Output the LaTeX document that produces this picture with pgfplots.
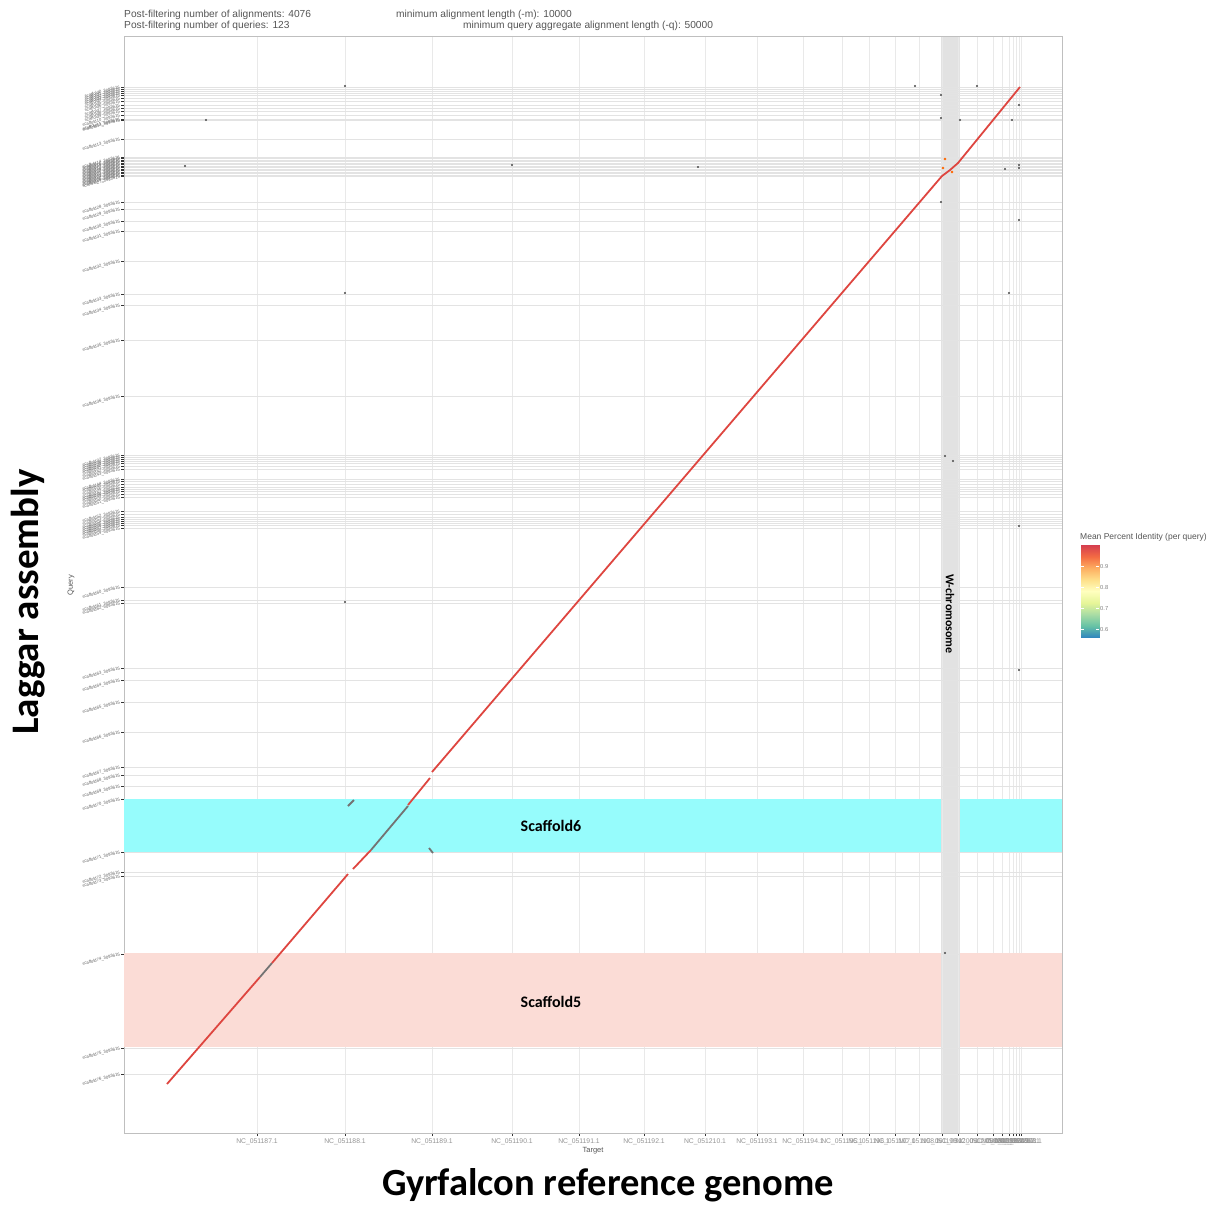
\documentclass[border=0pt]{standalone}
\usepackage{pgfplots}
\pgfplotsset{compat=1.18}
\usepackage{fontspec}
\setmainfont{Liberation Sans}
\newfontfamily\calib{Carlito}
\definecolor{linered}{RGB}{222,70,64}
\definecolor{linegray}{RGB}{115,115,115}
\definecolor{bandcyan}{RGB}{150,252,252}
\definecolor{bandpink}{RGB}{251,220,214}
\definecolor{bandgray}{RGB}{226,226,226}
\definecolor{txtgray}{RGB}{85,85,85}
\begin{document}
\begin{tikzpicture}[x=1pt,y=1pt]
\path (0,0) rectangle (1224,-1205);
\begin{axis}[
  at={(124pt,-36pt)}, anchor=north west,
  width=938pt, height=1097pt, scale only axis,
  xmin=124, xmax=1062, ymin=36, ymax=1133, y dir=reverse,
  set layers,
  axis line style={gray!50, line width=0.6pt},
  xmajorgrids, ymajorgrids,
  grid style={gray!17, line width=0.8pt},
  y grid style={gray!22, line width=0.7pt},
  xtick pos=left, ytick pos=left,
  tick align=outside, major tick length=3pt,
  tick style={gray!40!black, line width=0.6pt},
  xtick={257,345,432,512,579,644,705,757,803,842,869,895,919,942,958,977,993,1002,1009,1013,1016,1019,1021},
  xticklabels={NC\_051187.1,NC\_051188.1,NC\_051189.1,NC\_051190.1,NC\_051191.1,NC\_051192.1,NC\_051210.1,NC\_051193.1,NC\_051194.1,NC\_051195.1,NC\_051196.1,NC\_051197.1,NC\_051198.1,NC\_051199.1,NC\_051200.1,NC\_051201.1,NC\_051202.1,NC\_051203.1,NC\_051204.1,NC\_051205.1,NC\_051206.1,NC\_051207.1,NC\_051208.1},
  xticklabel style={font=\fontsize{6.8}{7}\selectfont, text=gray!85, inner sep=1pt, yshift=-1.5pt},
  ytick={87,89,91,93,95,98,101,105,108,111,115,119,120,139,157,158.5,160,161.5,163,164.5,166,167.5,169,170.5,172,173.5,175,176.5,202,209,221,231,261,294,305,340,396,455,457,459,461,463,466,469,479,481,484,487,489,491,494,497,511,514,517,519,521,523,525,528,587,600,603,668,680,702,732,767,775,786,799,852,872,876,954,1048,1074},
  yticklabel={scaffold\ticknum\_3093615},
  yticklabel style={rotate=15, anchor=east, font=\fontsize{4.3}{4.5}\selectfont, text=gray!75!black, inner sep=1pt},
]
% highlighted bands
\addplot[draw=none, fill=bandgray, on layer=axis background] coordinates {(941,36) (960,36) (960,1133) (941,1133)};
\addplot[draw=none, fill=bandpink] coordinates {(124,953) (941,953) (941,1047) (124,1047)};
\addplot[draw=none, fill=bandpink] coordinates {(960,953) (1062,953) (1062,1047) (960,1047)};
\addplot[draw=none, fill=bandcyan] coordinates {(124,799) (941,799) (941,852) (124,852)};
\addplot[draw=none, fill=bandcyan] coordinates {(960,799) (1062,799) (1062,852) (960,852)};
% alignments
\addplot[linered, line width=1.8pt] coordinates {(167,1084) (260,977)};
\addplot[linegray, line width=1.8pt] coordinates {(260,977) (272,963)};
\addplot[linered, line width=1.8pt] coordinates {(272,963) (348,874)};
\addplot[linered, line width=1.8pt] coordinates {(353,869) (371,850)};
\addplot[linegray, line width=1.8pt] coordinates {(371,850) (408,806)};
\addplot[linered, line width=1.8pt] coordinates {(408,805) (430,778)};
\addplot[linered, line width=1.8pt] coordinates {(432,772) (942,176) (950,170) (958,163) (1020,87)};
\addplot[linegray, line width=1.8pt] coordinates {(348,806) (354,800)};
\addplot[linegray, line width=1.8pt] coordinates {(429,848) (433,853)};
\addplot[only marks, mark=*, mark size=0.9pt, color=gray!70!black] coordinates {(345,86) (206,120) (185,166) (512,165) (698,167) (345,293) (1009,293) (1019,220) (945,456) (953,461) (1019,526) (345,602) (1019,670) (945,953) (915,86) (977,86) (941,95) (941,118) (960,120) (1012,120) (1019,105) (1019,165) (1019,168) (1005,169) (941,202)};
\addplot[only marks, mark=*, mark size=1.1pt, color=orange!80!red] coordinates {(945,159) (943,168) (952,172)};
\node[font=\calib\bfseries\fontsize{16}{16}\selectfont] at (axis cs:551,826) {Scaffold6};
\node[font=\calib\bfseries\fontsize{16}{16}\selectfont] at (axis cs:551,1002) {Scaffold5};
\node[rotate=-90, font=\calib\bfseries\fontsize{12}{12}\selectfont] at (axis cs:950,614) {W-chromosome};
\end{axis}
% colour key
\begin{axis}[
  at={(1081pt,-545pt)}, anchor=north west,
  width=18pt, height=92pt, scale only axis,
  xmin=0, xmax=1, ymin=0.562, ymax=1.0,
  axis line style={draw=none},
  xtick=\empty, ytick={0.6,0.7,0.8,0.9},
  yticklabel pos=right, tick align=inside,
  major tick length=3pt, tick style={white, line width=0.5pt},
  yticklabel style={font=\fontsize{5.8}{6}\selectfont, text=gray,
      /pgf/number format/fixed, /pgf/number format/precision=1,
      /pgf/number format/assume math mode=true, inner sep=1pt},
  axis on top,
  colormap={spectralr}{rgb255=(50,136,189) rgb255=(102,194,165) rgb255=(171,221,164) rgb255=(230,245,152) rgb255=(255,255,191) rgb255=(254,224,139) rgb255=(253,174,97) rgb255=(244,109,67) rgb255=(213,62,79)},
  point meta min=0.562, point meta max=1.0,
]
\addplot[patch, patch type=rectangle, shader=interp, point meta=explicit] coordinates {
(0,0.562) [0.562] (1,0.562) [0.562] (1,0.61675) [0.61675] (0,0.61675) [0.61675]
(0,0.61675) [0.61675] (1,0.61675) [0.61675] (1,0.6715) [0.6715] (0,0.6715) [0.6715]
(0,0.6715) [0.6715] (1,0.6715) [0.6715] (1,0.72625) [0.72625] (0,0.72625) [0.72625]
(0,0.72625) [0.72625] (1,0.72625) [0.72625] (1,0.781) [0.781] (0,0.781) [0.781]
(0,0.781) [0.781] (1,0.781) [0.781] (1,0.83575) [0.83575] (0,0.83575) [0.83575]
(0,0.83575) [0.83575] (1,0.83575) [0.83575] (1,0.8905) [0.8905] (0,0.8905) [0.8905]
(0,0.8905) [0.8905] (1,0.8905) [0.8905] (1,0.94525) [0.94525] (0,0.94525) [0.94525]
(0,0.94525) [0.94525] (1,0.94525) [0.94525] (1,1.0) [1.0] (0,1.0) [1.0]
};
\end{axis}
\node[anchor=base west, inner sep=0pt, font=\fontsize{10.2}{10}\selectfont, text=txtgray] at (124,-17) {Post-filtering number of alignments: 4076};
\node[anchor=base west, inner sep=0pt, font=\fontsize{10.2}{10}\selectfont, text=txtgray] at (124,-28) {Post-filtering number of queries: 123};
\node[anchor=base west, inner sep=0pt, font=\fontsize{10.2}{10}\selectfont, text=txtgray] at (396,-17) {minimum alignment length (-m): 10000};
\node[anchor=base west, inner sep=0pt, font=\fontsize{10.2}{10}\selectfont, text=txtgray] at (463,-28) {minimum query aggregate alignment length (-q): 50000};
\node[font=\fontsize{7.5}{7.5}\selectfont, text=txtgray] at (593,-1151) {Target};
\node[rotate=90, font=\fontsize{7.5}{7.5}\selectfont, text=txtgray] at (71,-585) {Query};
\node[anchor=west, font=\fontsize{8.5}{8.5}\selectfont, text=txtgray, inner sep=0pt] at (1080,-537) {Mean Percent Identity (per query)};
\node[inner sep=0pt, font=\calib\bfseries\fontsize{38.5}{38.5}\selectfont] at (608,-1185) {Gyrfalcon reference genome};
\node[inner sep=0pt, rotate=90, font=\calib\bfseries\fontsize{39}{39}\selectfont] at (28,-602) {Laggar assembly};
\end{tikzpicture}
\end{document}
